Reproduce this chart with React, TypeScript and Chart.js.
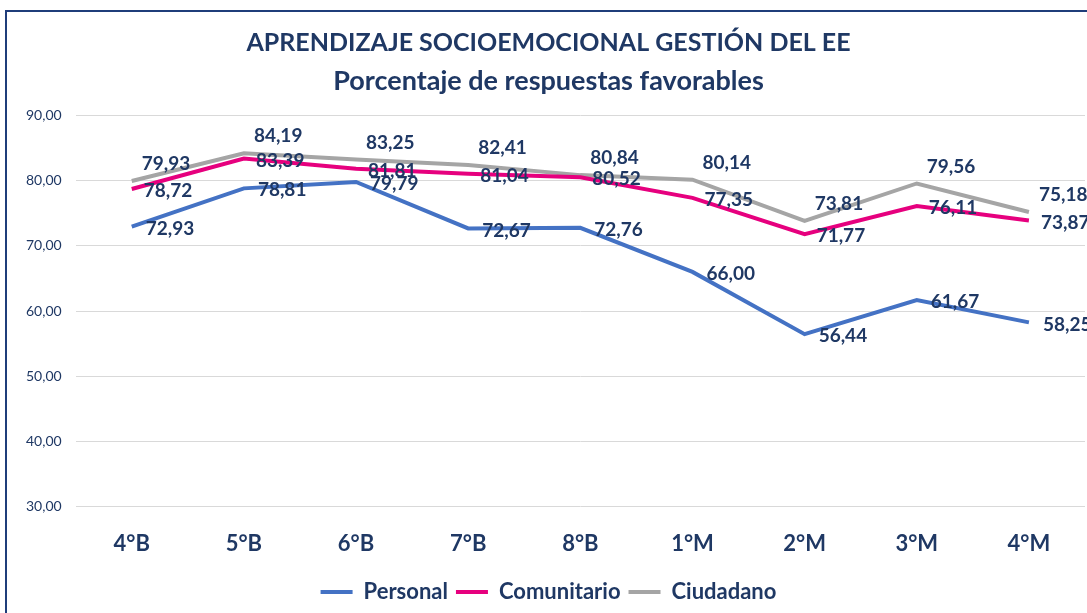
import React, { useEffect, useRef } from "react";
import { Chart, registerables } from "chart.js";

Chart.register(...registerables);

const categories = ["4°B", "5°B", "6°B", "7°B", "8°B", "1°M", "2°M", "3°M", "4°M"];
const personal = [72.93, 78.81, 79.79, 72.67, 72.76, 66.0, 56.44, 61.67, 58.25];
const comunitario = [78.72, 83.39, 81.81, 81.04, 80.52, 77.35, 71.77, 76.11, 73.87];
const ciudadano = [79.93, 84.19, 83.25, 82.41, 80.84, 80.14, 73.81, 79.56, 75.18];
const titleText = "APRENDIZAJE SOCIOEMOCIONAL GESTIÓN DEL EE";
const subtitleText = "Porcentaje de respuestas favorables";

const NAVY = "#1F3864";
const FONT = "Lato, 'Open Sans', sans-serif";

const fmt = (v: number) => v.toFixed(2).replace(".", ",");

const labelPlugin = {
  id: "valueLabels",
  afterDatasetsDraw(chart: any) {
    const ctx = chart.ctx;
    ctx.save();
    ctx.font = `bold 19px ${FONT}`;
    ctx.fillStyle = NAVY;
    ctx.textAlign = "left";
    ctx.textBaseline = "middle";
    chart.data.datasets.forEach((ds: any, di: number) => {
      const meta = chart.getDatasetMeta(di);
      const dy = ds.labelDy || 0;
      const dx = ds.labelDx || 12;
      meta.data.forEach((pt: any, i: number) => {
        ctx.fillText(fmt(ds.data[i]), pt.x + dx, pt.y + dy);
      });
    });
    ctx.restore();
  },
};

export default function App() {
  const ref = useRef<HTMLCanvasElement>(null);
  useEffect(() => {
    if (!ref.current) return;
    const chart = new Chart(ref.current, {
      type: "line",
      data: {
        labels: categories,
        datasets: [
          { label: "Personal", data: personal, borderColor: "#4472C4", backgroundColor: "#4472C4", borderWidth: 4, pointRadius: 0, tension: 0, labelDy: 2, labelDx: 14 } as any,
          { label: "Comunitario", data: comunitario, borderColor: "#E6007E", backgroundColor: "#E6007E", borderWidth: 4, pointRadius: 0, tension: 0, labelDy: 2, labelDx: 12 } as any,
          { label: "Ciudadano", data: ciudadano, borderColor: "#A5A5A5", backgroundColor: "#A5A5A5", borderWidth: 4, pointRadius: 0, tension: 0, labelDy: -17, labelDx: 10 } as any,
        ],
      },
      options: {
        animation: false,
        responsive: false,
        layout: { padding: { left: 12, right: 2, top: 0, bottom: 0 } },
        plugins: {
          title: {
            display: true,
            text: titleText,
            color: NAVY,
            font: { family: FONT, size: 25, weight: "bold", lineHeight: 1.2 },
            padding: { top: 28, bottom: 4 },
          },
          subtitle: {
            display: true,
            text: subtitleText,
            color: NAVY,
            font: { family: FONT, size: 27, weight: "bold", lineHeight: 1.2 },
            padding: { top: 3, bottom: 18 },
          },
          legend: {
            position: "bottom",
            labels: {
              color: NAVY,
              font: { family: FONT, size: 22, weight: "bold" },
              boxWidth: 32,
              boxHeight: 4,
              padding: 8,
              generateLabels: (c: any) =>
                Chart.defaults.plugins.legend.labels.generateLabels(c).map((l: any) => ({ ...l, lineWidth: 0, fillStyle: l.strokeStyle })),
            },
          },
          tooltip: { enabled: false },
        },
        scales: {
          x: {
            offset: true,
            grid: { display: false },
            border: { display: false },
            ticks: { color: NAVY, font: { family: FONT, size: 22, weight: "bold" }, padding: 16 },
          },
          y: {
            min: 30,
            max: 90,
            ticks: {
              stepSize: 10,
              color: NAVY,
              font: { family: FONT, size: 14 },
              padding: 14,
              callback: (v: any) => fmt(Number(v)),
            },
            grid: { color: "#D9D9D9", lineWidth: 1, drawTicks: false },
            border: { display: false },
          },
        },
      } as any,
      plugins: [labelPlugin],
    });
    return () => chart.destroy();
  }, []);
  return (
    <div style={{ position: "fixed", left: 0, top: 0, width: 1087, height: 613, background: "#fff" }}>
      <div style={{ position: "absolute", left: 5, top: 10, right: 0, bottom: 0, borderLeft: "2px solid #1F3D7A", borderTop: "2px solid #1F3D7A" }} />
      <canvas ref={ref} width={1087} height={613} style={{ position: "absolute", left: 0, top: 0 }} />
    </div>
  );
}
